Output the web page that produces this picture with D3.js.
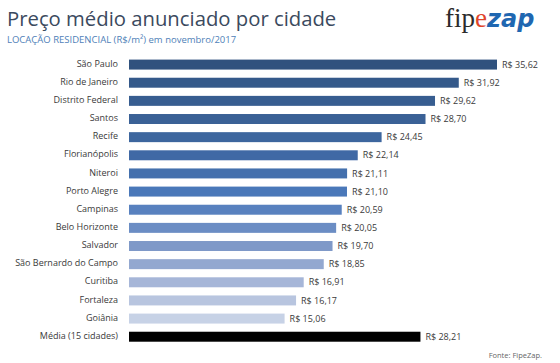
<!DOCTYPE html>
<html>
<head>
<meta charset="utf-8">
<script src="https://cdn.jsdelivr.net/npm/d3@7"></script>
<style>
  body { margin: 0; background: #fff; }
  svg { display: block; font-family: "Open Sans", "Noto Sans", sans-serif; }
</style>
</head>
<body>
<svg id="viz" width="560" height="363"></svg>
<script>
var cities = ['São Paulo', 'Rio de Janeiro', 'Distrito Federal', 'Santos', 'Recife',
	'Florianópolis', 'Niteroi', 'Porto Alegre', 'Campinas', 'Belo Horizonte',
	'Salvador', 'São Bernardo do Campo', 'Curitiba', 'Fortaleza', 'Goiânia', 'Média (15 cidades)'];
var prices = [35.62, 31.92, 29.62, 28.70, 24.45, 22.14, 21.11, 21.10, 20.59, 20.05,
	19.70, 18.85, 16.91, 16.17, 15.06, 28.21];
var barColors = ['#30527e', '#34598a', '#375d90', '#3a6196', '#3d669e', '#4069a5', '#4470ad',
	'#4a78b9', '#5881bf', '#6b8dc4', '#7f99c8', '#93a8d0', '#a6b6d8', '#b8c5df', '#c7d2e6', '#000000'];

var viz = d3.select('#viz');

var x = d3.scaleLinear().domain([0, 35.62]).range([129, 497]);
var y = d3.scaleBand().domain(cities).range([55.6, 345.7]).paddingInner(0.45).paddingOuter(0.22);

// titulo
viz.append('text')
	.attr('x', 7).attr('y', 26)
	.attr('font-size', 20.3)
	.attr('fill', '#3b4a5e')
	.text('Preço médio anunciado por cidade');
viz.append('text')
	.attr('x', 7).attr('y', 43)
	.attr('font-size', 9.5)
	.attr('fill', '#4f7fb8')
	.text('LOCAÇÃO RESIDENCIAL (R$/m²) em novembro/2017');

// logo
var logo = viz.append('text')
	.attr('x', 445).attr('y', 27)
	.attr('font-size', 27);
logo.append('tspan').attr('font-family', '"Liberation Serif", serif').attr('fill', '#2b2b2b').text('fip');
logo.append('tspan').attr('font-family', '"Liberation Serif", serif').attr('fill', '#e0452c').text('e');
logo.append('tspan').attr('font-family', '"DejaVu Sans", sans-serif').attr('font-weight', 'bold')
	.attr('font-style', 'italic').attr('font-size', 24).attr('fill', '#1f67b1').text('zap');

// barras
viz.selectAll('rect.bar')
	.data(cities)
	.enter().append('rect')
	.attr('class', 'bar')
	.attr('x', x(0))
	.attr('y', function(d) { return y(d); })
	.attr('width', function(d, i) { return x(prices[i]) - x(0); })
	.attr('height', y.bandwidth())
	.attr('fill', function(d, i) { return barColors[i]; });

// nomes
viz.selectAll('text.city')
	.data(cities)
	.enter().append('text')
	.attr('class', 'city')
	.attr('x', 118)
	.attr('y', function(d) { return y(d) + y.bandwidth() / 2 - 1; })
	.attr('dy', '0.35em')
	.attr('text-anchor', 'end')
	.attr('font-size', 9)
	.attr('fill', '#3a3a3a')
	.text(function(d) { return d; });

// valores
viz.selectAll('text.val')
	.data(cities)
	.enter().append('text')
	.attr('class', 'val')
	.attr('x', function(d, i) { return x(prices[i]) + 5; })
	.attr('y', function(d) { return y(d) + y.bandwidth() / 2; })
	.attr('dy', '0.35em')
	.attr('font-size', 9)
	.attr('fill', '#3a3a3a')
	.text(function(d, i) { return 'R$ ' + prices[i].toFixed(2).replace('.', ','); });

viz.append('text')
	.attr('x', 542).attr('y', 358)
	.attr('text-anchor', 'end')
	.attr('font-size', 7.5)
	.attr('fill', '#666')
	.text('Fonte: FipeZap.');
</script>
</body>
</html>
